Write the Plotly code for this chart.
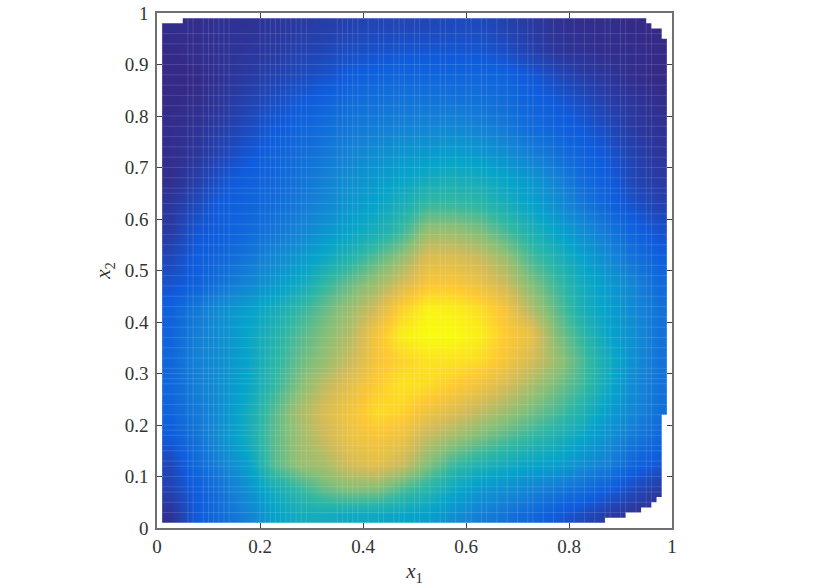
import plotly.graph_objects as go

# parula, sampled
PARULA = ['#352a87', '#0f5cdd', '#1481d6', '#06a4ca', '#2eb7a4',
          '#87bf77', '#d1bb59', '#fec832', '#f9fb0e']
AXIS_COLOR = '#707070'
TICK_COLOR = '#404040'

x_centers = [0.025, 0.075, 0.125, 0.175, 0.225, 0.275, 0.325, 0.375, 0.425, 0.475,
             0.525, 0.575, 0.625, 0.675, 0.725, 0.775, 0.825, 0.875, 0.925, 0.975]
y_centers = x_centers

# density, bottom row first
density = [
    [.02, .12, .18, .25, .36, .42, .42, .40, .40, .38, .36, .30, .24, .20, .16, .12, .08, .04, .02, .01],
    [.06, .13, .20, .30, .42, .50, .58, .62, .62, .54, .48, .40, .33, .30, .26, .22, .18, .13, .08, .04],
    [.07, .17, .25, .36, .55, .65, .68, .76, .80, .74, .62, .52, .46, .42, .38, .36, .30, .24, .15, .11],
    [.12, .20, .30, .42, .56, .66, .74, .82, .85, .82, .72, .66, .60, .55, .50, .45, .38, .30, .22, .16],
    [.15, .22, .30, .42, .55, .68, .77, .84, .92, .90, .83, .78, .72, .66, .60, .54, .46, .35, .27, .19],
    [.16, .24, .30, .38, .50, .62, .72, .80, .88, .94, .92, .88, .83, .76, .68, .60, .52, .40, .28, .20],
    [.16, .25, .30, .38, .48, .58, .65, .74, .85, .90, .94, .94, .92, .85, .76, .66, .54, .42, .30, .20],
    [.15, .24, .30, .38, .46, .55, .62, .70, .85, .97, 1.0, 1.0, .97, .88, .82, .62, .50, .38, .30, .20],
    [.14, .22, .30, .36, .42, .50, .58, .66, .76, .90, .98, .97, .93, .85, .70, .57, .44, .36, .28, .20],
    [.10, .14, .20, .26, .33, .40, .50, .58, .66, .76, .86, .86, .82, .74, .62, .52, .42, .34, .26, .17],
    [.07, .13, .16, .21, .27, .33, .40, .47, .56, .65, .78, .78, .74, .66, .54, .46, .37, .28, .20, .14],
    [.04, .11, .13, .17, .21, .26, .32, .38, .44, .52, .66, .66, .62, .54, .46, .38, .30, .22, .15, .10],
    [.03, .08, .13, .15, .18, .22, .27, .33, .38, .44, .52, .52, .50, .44, .38, .30, .22, .15, .10, .06],
    [.01, .05, .10, .14, .16, .20, .25, .30, .34, .38, .42, .44, .42, .38, .33, .26, .18, .13, .07, .04],
    [.01, .03, .07, .11, .15, .18, .22, .26, .30, .33, .34, .36, .34, .30, .25, .20, .15, .11, .06, .03],
    [.01, .02, .05, .08, .12, .15, .19, .22, .24, .26, .27, .28, .26, .23, .18, .15, .12, .08, .04, .02],
    [.00, .01, .03, .06, .09, .12, .15, .18, .20, .21, .21, .21, .20, .18, .15, .12, .09, .05, .03, .01],
    [.00, .00, .02, .04, .06, .08, .10, .13, .15, .16, .16, .16, .16, .15, .12, .08, .05, .03, .01, .00],
    [.00, .01, .02, .03, .04, .06, .07, .09, .10, .11, .11, .11, .11, .09, .06, .03, .02, .01, .01, .00],
    [.01, .01, .02, .02, .03, .04, .05, .06, .07, .07, .07, .08, .08, .06, .04, .02, .01, .01, .00, .00],
]

# stepped outline of the region that has data
edge_x = [.01, .01, .05, .05, .95, .95, .96, .96, .98, .98, .99, .99, .98, .98, .97, .97,
          .96, .96, .94, .94, .91, .91, .87, .87, .01]
edge_y = [.01, .98, .98, .99, .99, .98, .98, .97, .97, .95, .95, .22, .22, .06, .06, .05,
          .05, .04, .04, .03, .03, .02, .02, .01, .01]

# faint light seams between the cells
seam_x = [.06, .07, .09, .10, .11, .12, .13, .14, .20, .21, .22, .23, .24, .25, .26, .27, .28, .29,
          .35, .36, .37, .38, .39, .41, .43, .44, .46, .47, .48, .50, .51, .53, .55, .56, .58, .60,
          .61, .63, .64, .66, .68, .70, .72, .73, .75, .77, .79, .81, .83, .85, .87, .88, .90, .91,
          .93, .95, .96]
seam_y = [.03, .05, .07, .08, .10, .12, .13, .15, .16, .18, .19, .20, .22, .24, .26, .28, .29, .30,
          .31, .33, .35, .37, .39, .41, .43, .45, .47, .49, .51, .53, .55, .57, .59, .61, .63, .65,
          .66, .68, .70, .72, .74, .76, .78, .80, .82, .84, .86, .88, .90, .92, .94, .96]

x_ticks = [0, 0.2, 0.4, 0.6, 0.8, 1]
y_ticks = [0, 0.1, 0.2, 0.3, 0.4, 0.5, 0.6, 0.7, 0.8, 0.9, 1]

fig = go.Figure()
fig.add_trace(go.Heatmap(x=x_centers, y=y_centers, z=density, zmin=0, zmax=1,
                         zsmooth='best', showscale=False,
                         colorscale=[[i / 8, c] for i, c in enumerate(PARULA)]))

line_x, line_y = [], []
for v in seam_x:
    line_x += [v, v, None]
    line_y += [0, 1, None]
for v in seam_y:
    line_x += [0, 1, None]
    line_y += [v, v, None]
fig.add_trace(go.Scatter(x=line_x, y=line_y, mode='lines', hoverinfo='skip',
                         line=dict(color='rgba(255,255,255,0.13)', width=1)))

# white outside the outline: outer square, then back round the outline the other way
fig.add_trace(go.Scatter(x=[0, 0, 1, 1, 0] + edge_x[::-1], y=[0, 1, 1, 0, 0] + edge_y[::-1],
                         mode='lines', line=dict(width=0), fill='toself',
                         fillcolor='white', hoverinfo='skip'))

axis_style = dict(range=[0, 1], showgrid=False, zeroline=False, showline=True, mirror='ticks',
                  linecolor=AXIS_COLOR, linewidth=1.5, ticks='inside', ticklen=5, tickwidth=1,
                  tickcolor=TICK_COLOR, tickmode='array', automargin=False,
                  tickfont=dict(family='Liberation Serif', size=19, color='#333333'))
title_font = dict(family='Liberation Serif', size=21, color='#333333')
fig.update_xaxes(tickvals=x_ticks, ticktext=[str(v) for v in x_ticks],
                 title=dict(text='<i>x</i><sub>1</sub>', standoff=8, font=title_font),
                 **axis_style)
fig.update_yaxes(tickvals=y_ticks, ticktext=[str(v) for v in y_ticks], ticklabelstandoff=3,
                 title=dict(text='<i>x</i><sub>2</sub>', standoff=8, font=title_font),
                 **axis_style)
fig.update_layout(width=830, height=588, showlegend=False, plot_bgcolor='white', paper_bgcolor='white',
                  margin=dict(l=157, r=157.5, t=13.3, b=60))
fig.write_html("out.html", post_script="document.body.style.margin='0';",
               config=dict(displayModeBar=False))
